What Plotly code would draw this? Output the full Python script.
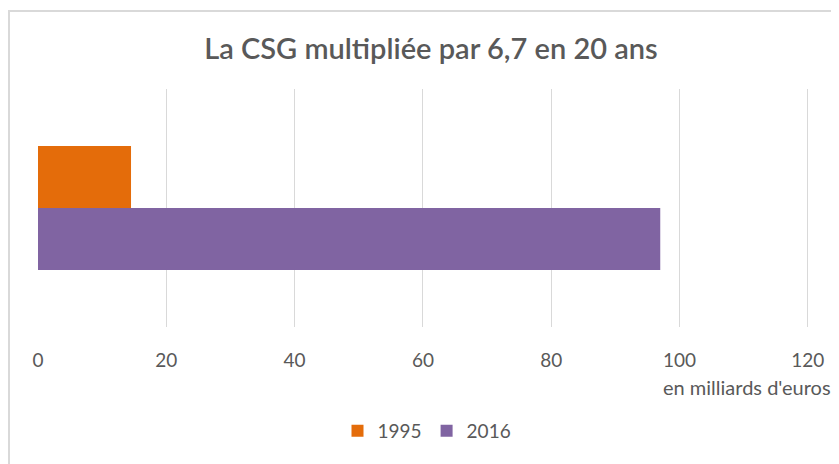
import plotly.graph_objects as go

title = "La CSG multipliée par 6,7 en 20 ans"
series_names = ["1995", "2016"]
series_values = [14.5, 97.0]
series_colors = ["#E46C0A", "#8064A2"]
x_ticks = [0, 20, 40, 60, 80, 100, 120]
unit_label = "en milliards d'euros"

# page body has an 8px margin, so the figure is drawn 8px smaller
W, H = 831, 456
L, R, T, B = 30, 28, 81, 137
PW = W - L - R
PH = H - T - B


def px(xf):
    return (xf - L) / PW


def py(yf):
    return (H - B - yf) / PH


fig = go.Figure()
for name, val, col in zip(series_names, series_values, series_colors):
    fig.add_trace(go.Bar(
        x=[val], y=[0], name=name, orientation="h",
        marker=dict(color=col, line=dict(width=0)),
        hoverinfo="x+name",
    ))

font_family = "Lato, 'Open Sans', sans-serif"
fig.update_layout(
    width=W, height=H,
    margin=dict(l=L, r=R, t=T, b=B, autoexpand=False),
    paper_bgcolor="white", plot_bgcolor="white",
    barmode="group", bargap=0.48, bargroupgap=0,
    font=dict(family=font_family, color="#595959"),
    title=dict(text=title, x=423 / W, xanchor="center", y=1 - 41 / H,
               yanchor="middle", yref="container",
               font=dict(size=29, color="#595959", family=font_family, weight=600)),
    xaxis=dict(range=[0, 120.5], tickvals=x_ticks, ticktext=[str(v) for v in x_ticks],
               showgrid=True, gridcolor="#D9D9D9", gridwidth=1.3,
               zeroline=False, showline=False, ticks="",
               tickfont=dict(size=19, color="#595959"),
               ticklabelstandoff=20, fixedrange=True, automargin=False),
    yaxis=dict(range=[0.5, -0.5], showticklabels=False, showgrid=False,
               zeroline=False, showline=False, fixedrange=True, automargin=False),
    legend=dict(orientation="h", x=px(419), xanchor="center",
                y=py(423), yanchor="middle",
                font=dict(size=19, color="#595959"), traceorder="normal",
                itemwidth=30, bgcolor="rgba(0,0,0,0)"),
    showlegend=True,
)

fig.add_annotation(text=unit_label, xref="paper", yref="paper",
                   x=px(825), y=py(379),
                   xanchor="right", yanchor="middle", showarrow=False,
                   font=dict(size=20, color="#595959"))

# chart frame (top and left edges visible in the crop)
fig.add_shape(type="rect", xref="paper", yref="paper",
              x0=px(1), x1=px(W + 20), y0=py(H + 20), y1=py(3),
              line=dict(color="#D9D9D9", width=2), fillcolor="rgba(0,0,0,0)",
              layer="below")

fig.write_html("out.html")
